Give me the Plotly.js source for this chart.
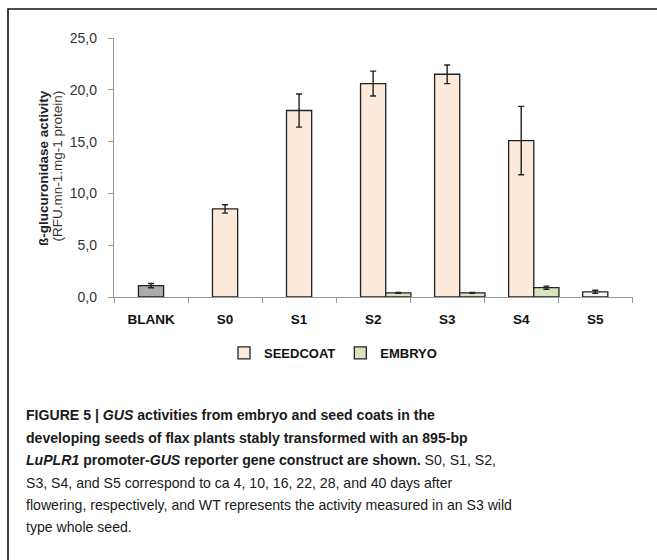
<!DOCTYPE html>
<html>
<head>
<meta charset="utf-8">
<script src="https://cdn.plot.ly/plotly-3.0.1.min.js"></script>
<style>
html,body{margin:0;padding:0;background:#fff;}
#chart{width:657px;height:560px;}
</style>
</head>
<body>
<div id="chart"></div>
<script>
// ---- data ----
var categories = ["BLANK", "S0", "S1", "S2", "S3", "S4", "S5"];
var blankValues = [1.1, null, null, null, null, null, null];
var blankErrors = [0.2, null, null, null, null, null, null];
var seedcoatValues = [null, 8.5, 18.0, 20.6, 21.5, 15.1, 0.5];
var seedcoatErrors = [null, 0.4, 1.6, 1.2, 0.9, 3.3, 0.15];
var embryoValues = [null, null, null, 0.4, 0.4, 0.9, null];
var embryoErrors = [null, null, null, 0.05, 0.05, 0.15, null];
var seedcoatColors = ["#fde9d9", "#fde9d9", "#fde9d9", "#fde9d9", "#fde9d9", "#fde9d9", "#fdf4ee"];
var yTickValues = [0, 5, 10, 15, 20, 25];
var yTitle = "ß-glucuronidase activity";
var yUnits = "(RFU.mn-1.mg-1 protein)";
var captionLines = [
  "<b>FIGURE 5 | <i>GUS</i> activities from embryo and seed coats in the</b>",
  "<b>developing seeds of flax plants stably transformed with an 895-bp</b>",
  "<b><i>LuPLR1</i> promoter-<i>GUS</i> reporter gene construct are shown.</b> S0, S1, S2,",
  "S3, S4, and S5 correspond to ca 4, 10, 16, 22, 28, and 40 days after",
  "flowering, respectively, and WT represents the activity measured in an S3 wild",
  "type whole seed."
];

// ---- geometry helpers (pixel -> paper) ----
var L = 114, R = 633, T = 38, B = 297;
function px(x){ return (x - L) / (R - L); }
function py(y){ return (B - y) / (B - T); }

var barW = 0.34;
var lineCol = "#222";
function errs(arr){ return {type:"data", array:arr, visible:true, color:lineCol, thickness:1.4, width:3}; }

var traces = [
  {type:"bar", name:"BLANK", x:categories, y:blankValues, width:barW, offset:-barW/2,
   marker:{color:"#ababab", line:{color:lineCol, width:1.3}}, error_y:errs(blankErrors), showlegend:false},
  {type:"bar", name:"SEEDCOAT", x:categories, y:seedcoatValues, width:barW, offset:-barW/2,
   marker:{color:seedcoatColors, line:{color:lineCol, width:1.3}}, error_y:errs(seedcoatErrors)},
  {type:"bar", name:"EMBRYO", x:categories, y:embryoValues, width:barW, offset:barW/2,
   marker:{color:"#d7e4bd", line:{color:lineCol, width:1.3}}, error_y:errs(embryoErrors)}
];

var annotations = [
  {xref:"paper", yref:"paper", x:px(43), y:py(168), text:"<b>"+yTitle+"</b>", textangle:-90,
   showarrow:false, xanchor:"center", yanchor:"middle", font:{family:"Liberation Sans, Arial", size:13.5, color:"#222"}},
  {xref:"paper", yref:"paper", x:px(56.5), y:py(166), text:yUnits, textangle:-90,
   showarrow:false, xanchor:"center", yanchor:"middle", font:{family:"Liberation Sans, Arial", size:13.5, color:"#333"}}
];
var lineY = [415, 438, 460, 483, 505, 527];
captionLines.forEach(function(t, i){
  annotations.push({xref:"paper", yref:"paper", x:px(24), y:py(lineY[i]), text:t, showarrow:false,
    xanchor:"left", yanchor:"middle", align:"left",
    font:{family:"Liberation Sans, Arial", size:14.1, color:"#1a1a1a"}});
});

var layout = {
  width:657, height:560,
  margin:{l:L, r:657-R, t:T, b:560-B, pad:0},
  paper_bgcolor:"#fff", plot_bgcolor:"#fff",
  separators:", ",
  barmode:"overlay",
  showlegend:true,
  legend:{orientation:"h", x:px(333), y:py(353), xanchor:"center", yanchor:"middle",
          font:{family:"Liberation Sans, Arial", size:13, color:"#111", weight:"bold"}, itemwidth:30, tracegroupgap:0,
          traceorder:"normal"},
  xaxis:{type:"category", categoryorder:"array", categoryarray:categories,
         showline:true, linecolor:"#999", linewidth:1.2, tickson:"boundaries", ticks:"outside", ticklen:5,
         tickcolor:"#999", showgrid:false, zeroline:false, ticklabelstandoff:10,
         tickfont:{family:"Liberation Sans, Arial", size:13.5, color:"#111", weight:"bold"}},
  yaxis:{range:[0,25], tickvals:yTickValues, tickformat:".1f", showline:true, linecolor:"#999", linewidth:1.2,
         ticks:"outside", ticklen:5, tickcolor:"#999", showgrid:false, zeroline:false, ticklabelstandoff:8,
         tickfont:{family:"Liberation Sans, Arial", size:14, color:"#333"}},
  shapes:[
    {type:"rect", xref:"paper", yref:"paper", x0:px(8), x1:px(720), y0:py(620), y1:py(9),
     line:{color:"#111", width:1.6}, fillcolor:"rgba(0,0,0,0)", layer:"below"}
  ],
  annotations:annotations
};

Plotly.newPlot("chart", traces, layout, {staticPlot:true, displayModeBar:false});
</script>
</body>
</html>
